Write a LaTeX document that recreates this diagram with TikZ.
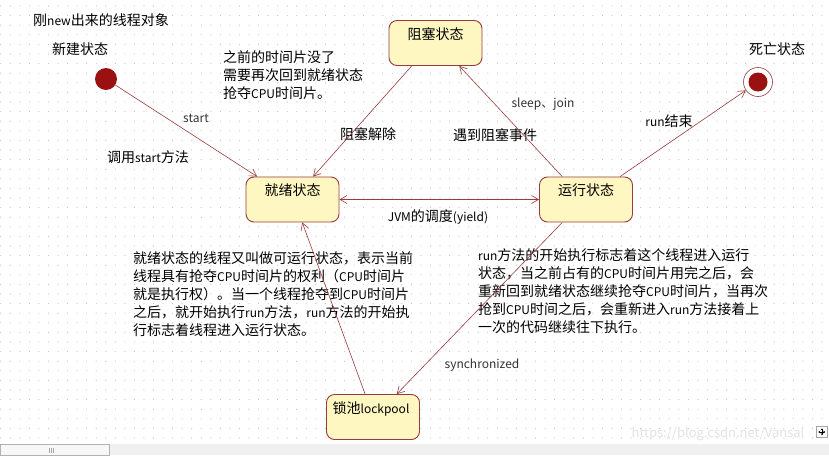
\documentclass[tikz,border=0pt]{standalone}
\usepackage{fontspec}
\setmainfont{Noto Sans CJK SC}
\usetikzlibrary{arrows.meta}
\definecolor{edge}{HTML}{9A3B3B}
\definecolor{boxfill}{HTML}{FFF7C2}
\definecolor{dotred}{HTML}{9B1010}
\definecolor{griddot}{HTML}{BDBDBD}
\newcommand\lt[1]{{\fontsize{12}{14}\selectfont #1}}
\tikzset{
  state/.style={draw=edge, fill=boxfill, rounded corners=8pt, line width=0.9pt,
    minimum width=93pt, minimum height=45pt, inner sep=0pt},
  stlabel/.style={font=\fontsize{14}{16}\selectfont, inner sep=0pt},
  txt/.style={font=\fontsize{14}{18}\selectfont, inner sep=0pt, align=left},
  small/.style={font=\fontsize{12}{14}\selectfont, inner sep=0pt, text=black!80},
  tip/.tip={Straight Barb[length=7pt,width=8pt]},
  conn/.style={draw=edge, line width=0.6pt, -tip},
}
\begin{document}
\begin{tikzpicture}[x=1pt,y=-1pt]
\useasboundingbox (0,0) rectangle (829,455);
\fill[white] (0,0) rectangle (829,455);
\foreach \i in {0,...,86} \foreach \j in {0,...,45}
  \fill[griddot] (0.7+9.55*\i, 6+9.6*\j) circle (0.55pt);
% scrollbar
\fill[gray!12] (0,444) rectangle (829,455);
\draw[gray!60, fill=gray!6] (0,444.5) rectangle (109,455);
\foreach \k in {49,51,53} \draw[gray!70, line width=0.6pt] (\k,447.5) -- (\k,452.5);
% watermark
\node[font=\fontsize{13}{13}\selectfont, text=gray!22, inner sep=0pt] (wm) at (718,434) {https://blog.csdn.net/Vansal};
% move icon
\node[draw=gray!70, fill=white, minimum size=11pt, inner sep=0pt] (mv) at (822,432) {};
\draw[black, line width=0.5pt, <->, >={Stealth[length=2pt,width=2.5pt]}] (mv.west) ++(2,0) -- ++(7,0);
\draw[black, line width=0.5pt, <->, >={Stealth[length=2pt,width=2.5pt]}] (mv.north) ++(0,2) -- ++(0,7);

% states
\node[state] (block) at (435.5,43) {};
\node[stlabel] (blockL) at (435.5,34) {阻塞状态};
\node[state] (ready) at (292.5,199.5) {};
\node[stlabel] (readyL) at (292.5,190) {就绪状态};
\node[state] (run) at (586,199.5) {};
\node[stlabel] (runL) at (586,190) {运行状态};
\node[state] (lock) at (373,417) {};
\node[stlabel] (lockL) at (371,409) {锁池\lt{lockpool}};
\node[circle, fill=dotred, minimum size=22pt, inner sep=0pt] (start) at (106,79) {};
\node[circle, draw=edge, fill=white, line width=0.6pt, minimum size=29pt, inner sep=0pt] (dead) at (758,82) {};
\node[circle, fill=dotred, minimum size=19pt, inner sep=0pt] (deadIn) at (758,82) {};

% texts
\node[txt, anchor=west] (newobj) at (33,20) {刚\lt{new}出来的线程对象};
\node[txt] (newL) at (80,49) {新建状态};
\node[txt] (deadL) at (777,49) {死亡状态};
\node[small] (startL) at (196,118) {start};
\node[txt] (callL) at (148,157) {调用\lt{start}方法};
\node[txt, anchor=north west] (prevL) at (223,50) {之前的时间片没了\\需要再次回到就绪状态\\抢夺\lt{CPU}时间片。};
\node[txt] (unblockL) at (368,134) {阻塞解除};
\node[small] (sleepL) at (543,104) {sleep、join};
\node[txt] (blockEvtL) at (495,135) {遇到阻塞事件};
\node[txt] (runEndL) at (669,121) {\lt{run}结束};
\node[txt] (jvmL) at (438,217) {\lt{JVM}的调度\lt{(yield)}};
\node[small] (syncL) at (482,365) {synchronized};
\node[txt, anchor=north west] (readyTxt) at (133,251) {就绪状态的线程又叫做可运行状态，表示当前\\线程具有抢夺\lt{CPU}时间片的权利（\lt{CPU}时间片\\就是执行权）。当一个线程抢夺到\lt{CPU}时间片\\之后，就开始执行\lt{run}方法，\lt{run}方法的开始执\\行标志着线程进入运行状态。};
\node[txt, anchor=north west] (runTxt) at (478,248) {\lt{run}方法的开始执行标志着这个线程进入运行\\状态，当之前占有的\lt{CPU}时间片用完之后，会\\重新回到就绪状态继续抢夺\lt{CPU}时间片，当再次\\抢到\lt{CPU}时间之后，会重新进入\lt{run}方法接着上\\一次的代码继续往下执行。};

% connectors
\draw[conn] (start) -- (ready.147);
\draw[conn] (block.224) -- (ready.48);
\draw[conn] (run.136) -- (block.-44);
\draw[conn] (run.34) -- (dead);
\draw[conn, tip-tip] (ready.east) -- (run.west);
\draw[conn] (run.224) -- (lock.44);
\draw[conn] (lock.109) -- (ready.-67);
\end{tikzpicture}
\end{document}
